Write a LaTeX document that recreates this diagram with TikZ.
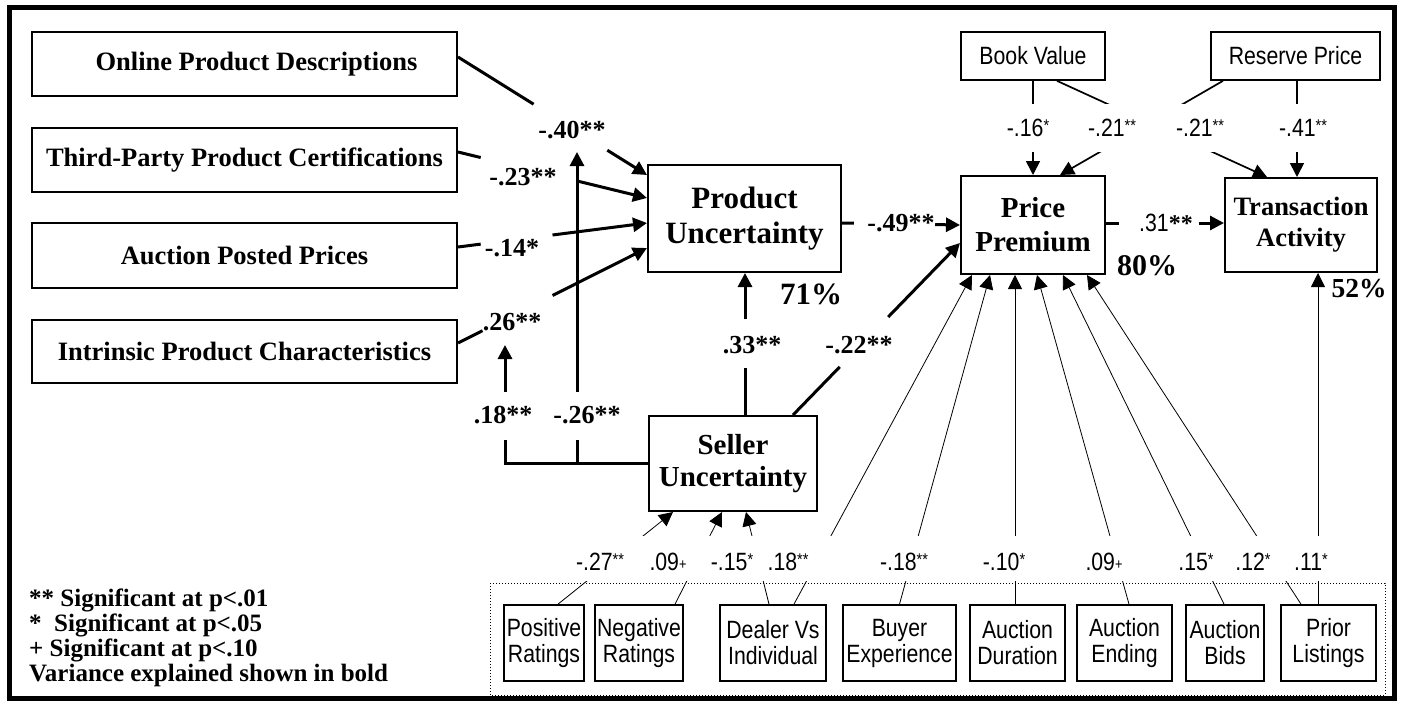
\documentclass[tikz,border=0pt]{standalone}
\usepackage{fontspec}
\setmainfont{Liberation Serif}
\newfontfamily\narrow[FakeStretch=0.85]{Liberation Sans}
\usetikzlibrary{arrows.meta,calc}
\newcommand{\sst}[1]{\raisebox{5pt}{\fontsize{17}{17}\selectfont #1}}
\newcommand{\spl}{\raisebox{1pt}{\fontsize{15}{15}\selectfont +}}
\newcommand{\gapped}[4]{%
  \draw[thickln] (#1) -- ($(#1)!#3!(#2)$);
  \draw[thickln,arrhd] ($(#1)!#4!(#2)$) -- (#2);}
\newcommand{\bottomlinks}{%
  \draw[hairln,arrhd] ([xshift=14pt]pr.north) -- ([xshift=-60pt]su.south);
  \draw[hairln,arrhd] ([xshift=36pt]nr.north) -- ([xshift=-11pt]su.south);
  \draw[hairln,arrhd] ([xshift=-4pt]dv.north) -- ([xshift=13pt]su.south);
  \draw[hairln,arrhd] ([xshift=21pt]dv.north) -- ([xshift=-61pt]pp.south);
  \draw[hairln,arrhd] (be.north) -- ([xshift=-43pt]pp.south);
  \draw[hairln,arrhd] ([xshift=-2.5pt]ad.north) -- ([xshift=-18pt]pp.south);
  \draw[hairln,arrhd] ([xshift=4.5pt]ae.north) -- ([xshift=4pt]pp.south);
  \draw[hairln,arrhd] ([xshift=-1pt]ab.north) -- ([xshift=30pt]pp.south);
  \draw[hairln,arrhd] ([xshift=-27.5pt]pl.north) -- ([xshift=54pt]pp.south);
  \draw[hairln,arrhd] ([xshift=-10.5pt]pl.north) -- ([xshift=17pt]ta.south);}
\newcommand{\toplinks}{%
  \draw[medln,arrhd] (bv.south) -- (pp.north);
  \draw[medln,arrhd] ([xshift=24pt]bv.south) -- ([xshift=-34pt]ta.north);
  \draw[medln,arrhd] ([xshift=-72.5pt]rp.south) -- ([xshift=27pt]pp.north);
  \draw[medln,arrhd] ([xshift=1.5pt]rp.south) -- ([xshift=-4pt]ta.north);}
\begin{document}
\begin{tikzpicture}[x=1pt,y=-1pt,
  box/.style={draw,line width=2pt,inner sep=0pt,align=center,font=\fontsize{26.5}{30}\selectfont\bfseries},
  core/.style={draw,line width=2pt,inner sep=0pt,align=center},
  small/.style={draw,line width=1.7pt,inner sep=0pt,align=center,font=\narrow\fontsize{25}{26}\selectfont},
  coef/.style={inner sep=1pt,font=\fontsize{26}{28}\selectfont\bfseries},
  ncoef/.style={inner sep=1pt,font=\narrow\fontsize{25}{27}\selectfont},
  pct/.style={inner sep=0pt,font=\fontsize{31}{31}\selectfont\bfseries},
  thickln/.style={line width=3pt},
  medln/.style={line width=1.7pt},
  hairln/.style={line width=0.8pt},
  arrhd/.style={-{Triangle[length=14pt,width=14pt]}},
]
\useasboundingbox (0,0) rectangle (1401,707);
\draw[line width=5pt] (9.5,7.5) rectangle (1394,698.5);

% left boxes
\node[box,minimum width=425pt,minimum height=64pt] (opd) at (244.5,64) {\hspace*{24pt}Online Product Descriptions};
\node[box,minimum width=425pt,minimum height=64pt] (tpc) at (244.5,160) {Third-Party Product Certifications};
\node[box,minimum width=425pt,minimum height=65pt] (app) at (244.5,255.5) {Auction Posted Prices};
\node[box,minimum width=425pt,minimum height=63pt] (ipc) at (244.5,351.5) {Intrinsic Product Characteristics};

% core constructs
\node[core,minimum width=193pt,minimum height=107pt,font=\fontsize{31}{35.5}\selectfont\bfseries] (pu) at (744.5,218.5) {Product\\Uncertainty};
\node[core,minimum width=168pt,minimum height=95pt,font=\fontsize{29}{32}\selectfont\bfseries] (su) at (733,463.5) {Seller\\Uncertainty};
\node[core,minimum width=144pt,minimum height=98pt,font=\fontsize{29}{34}\selectfont\bfseries] (pp) at (1033,225) {Price\\Premium};
\node[core,minimum width=152pt,minimum height=94pt,font=\fontsize{26.5}{31}\selectfont\bfseries] (ta) at (1301,225) {Transaction\\Activity};
\node[small,minimum width=144pt,minimum height=48pt] (bv) at (1033,56) {Book Value};
\node[small,minimum width=169pt,minimum height=48pt] (rp) at (1295.5,56) {Reserve Price};

% bottom boxes
\draw[dotted,line width=1pt] (490,583) rectangle (1385,695);
\node[small,minimum width=80pt,minimum height=76pt] (pr) at (544,643) {Positive\\Ratings};
\node[small,minimum width=88pt,minimum height=76pt] (nr) at (639,643) {Negative\\Ratings};
\node[small,minimum width=106pt,minimum height=76pt] (dv) at (773,643) {Dealer Vs\\Individual};
\node[small,minimum width=113pt,minimum height=76pt] (be) at (899.5,643) {Buyer\\Experience};
\node[small,minimum width=95pt,minimum height=76pt] (ad) at (1017.5,643) {Auction\\Duration};
\node[small,minimum width=95pt,minimum height=76pt] (ae) at (1124.5,643) {Auction\\Ending};
\node[small,minimum width=78pt,minimum height=76pt] (ab) at (1225,643) {Auction\\Bids};
\node[small,minimum width=95pt,minimum height=76pt] (pl) at (1328.5,643) {Prior\\Listings};

% coefficient labels (bold)
\node[coef] (l40) at (572,130) {-.40**};
\node[coef] (l23) at (523,177) {-.23**};
\node[coef] (l14) at (512,248) {-.14*};
\node[coef] (l26) at (512,322) {.26**};
\node[coef] (l18) at (503,415) {.18**};
\node[coef] (l26b) at (587,415) {-.26**};
\node[coef] (l33) at (752,345) {.33**};
\node[coef] (l22) at (859,345) {-.22**};
\node[coef] (l49) at (901,223) {-.49**};
\node[inner sep=1pt] (l31) at (1166,223) {{\narrow\fontsize{25}{27}\selectfont .31}{\fontsize{24}{26}\selectfont\bfseries **}};
\node[pct] (v71) at (811,294) {71\%};
\node[pct,font=\fontsize{30}{30}\selectfont\bfseries] (v80) at (1147,266) {80\%};
\node[pct,font=\fontsize{27.5}{28}\selectfont\bfseries] (v52) at (1359,289) {52\%};

% coefficient labels (narrow)
\node[ncoef] (l16) at (1028,128) {-.16\sst{*}};
\node[ncoef] (l21a) at (1112,128) {-.21\sst{**}};
\node[ncoef] (l21b) at (1200,128) {-.21\sst{**}};
\node[ncoef] (l41) at (1303,128) {-.41\sst{**}};
\node[ncoef] (b27) at (600,562) {-.27\sst{**}};
\node[ncoef] (b09a) at (668,562) {.09\spl};
\node[ncoef] (b15) at (732,562) {-.15\sst{*}};
\node[ncoef] (b18a) at (788,562) {.18\sst{**}};
\node[ncoef] (b18b) at (904,562) {-.18\sst{**}};
\node[ncoef] (b10) at (1004,562) {-.10\sst{*}};
\node[ncoef] (b09b) at (1104,562) {.09\spl};
\node[ncoef] (b15b) at (1196,562) {.15\sst{*}};
\node[ncoef] (b12) at (1253,562) {.12\sst{*}};
\node[ncoef] (b11) at (1311,562) {.11\sst{*}};

% legend
\node[anchor=north west,align=left,inner sep=0pt,font=\fontsize{25}{25}\selectfont\bfseries] (leg) at (29,589) {** Significant at p<.01\\*~~Significant at p<.05\\+ Significant at p<.10\\Variance explained shown in bold};

% attachment points
\coordinate (opdE) at ([yshift=7pt]opd.east);
\coordinate (puA) at ([yshift=43.5pt]pu.west);
\coordinate (tpcE) at ([yshift=8pt]tpc.east);
\coordinate (puB) at ([yshift=20.5pt]pu.west);
\coordinate (appE) at ([yshift=8.5pt]app.east);
\coordinate (puC) at ([yshift=-4.5pt]pu.west);
\coordinate (ipcE) at ([yshift=8.5pt]ipc.east);
\coordinate (puD) at ([yshift=-29.5pt]pu.west);
\coordinate (suT1) at ([xshift=12pt]su.north);
\coordinate (puS) at ([xshift=0.5pt]pu.south);
\coordinate (suT2) at ([xshift=60pt]su.north);
\coordinate (ppW2) at ([yshift=-18pt]pp.west);
\coordinate (puE) at ([yshift=-4.5pt]pu.east);
\coordinate (ppW1) at (pp.west);
\coordinate (ppE) at ([yshift=2pt]pp.east);
\coordinate (taW) at ([yshift=2pt]ta.west);

\gapped{opdE}{puA}{0.40}{0.79}
\gapped{tpcE}{puB}{0.12}{0.63}
\gapped{appE}{puC}{0.12}{0.50}
\gapped{ipcE}{puD}{0.13}{0.50}
\gapped{suT1}{puS}{0.333}{0.674}
\gapped{suT2}{ppW2}{0.28}{0.57}
\gapped{puE}{ppW1}{0.10}{0.79}
\gapped{ppE}{taW}{0.11}{0.79}

% moderation paths from seller uncertainty
\coordinate (m1) at (505,440);
\coordinate (m1b) at (505,392);
\coordinate (m1t) at (505,345);
\coordinate (m2j) at (577,463.5);
\coordinate (m2) at (577,440);
\coordinate (m2b) at (577,392);
\coordinate (m2t) at (577,152);
\draw[thickln] (su.west) -| (m1);
\draw[thickln] (m2j) -- (m2);
\draw[thickln,arrhd] (m1b) -- (m1t);
\draw[thickln,arrhd] (m2b) -- (m2t);

% top right links with gap
\begin{scope}
\clip (0,0) rectangle (1401,103);
\toplinks
\end{scope}
\begin{scope}
\clip (0,152) rectangle (1401,300);
\toplinks
\end{scope}

% bottom links with gap
\begin{scope}
\clip (0,250) rectangle (1401,535);
\bottomlinks
\end{scope}
\begin{scope}
\clip (0,581) rectangle (1401,707);
\bottomlinks
\end{scope}
\end{tikzpicture}
\end{document}
